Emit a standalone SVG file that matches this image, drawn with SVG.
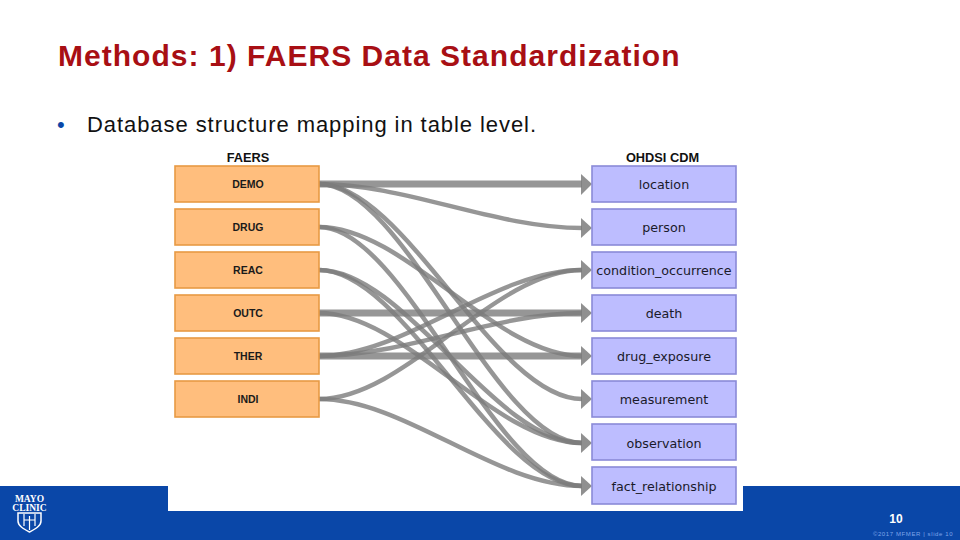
<svg xmlns="http://www.w3.org/2000/svg" width="960" height="540" viewBox="0 0 960 540">
<defs>
<style>
.t{font-family:"Liberation Sans",Arial,sans-serif}
.l{fill:#ffbe7d;stroke:#e89a44;stroke-width:1.6}
.r{fill:#bdbdff;stroke:#8a8ad8;stroke-width:1.6}
.lt{font-family:"Liberation Sans",Arial,sans-serif;font-size:10.500px;font-weight:bold;fill:#1a1a1a;text-anchor:middle}
.rt{font-family:"DejaVu Sans",sans-serif;font-size:12.700px;fill:#1a1a2a;text-anchor:middle}
.h{font-family:"Liberation Sans",Arial,sans-serif;font-size:12.800px;font-weight:bold;fill:#111;text-anchor:middle}
.c{fill:none;stroke:#7c7c7c;stroke-opacity:.8;stroke-width:4.500}
.s{stroke-width:7}
.a{fill:#7c7c7c;fill-opacity:.85}
</style>
</defs>
<rect width="960" height="540" fill="#fff"/>
<text class="t" x="58" y="66" font-size="30" font-weight="bold" letter-spacing="1.030" fill="#a80f14">Methods: 1) FAERS Data Standardization</text>
<text class="t" x="57" y="132" font-size="22" fill="#0a47a8">•</text>
<text class="t" x="87" y="132" font-size="22" letter-spacing=".93" fill="#111">Database structure mapping in table level.</text>
<rect id="band" x="0" y="486" width="960" height="54" fill="#0a47a8"/>
<rect id="panel" x="168" y="150" width="575" height="361" fill="#fff"/>
<g id="connectors">
<path class="c s" d="M319 184H582"/>
<path class="c" d="M319 184C405 184 495 228 582 228"/>
<path class="c" d="M319 184C405 184 495 399 582 399"/>
<path class="c" d="M319 184C405 184 495 443 582 443"/>
<path class="c" d="M319 227C405 227 495 356 582 356"/>
<path class="c" d="M319 227C405 227 495 486 582 486"/>
<path class="c" d="M319 270C405 270 495 443 582 443"/>
<path class="c" d="M319 270C405 270 495 486 582 486"/>
<path class="c s" d="M319 313H582"/>
<path class="c" d="M319 313C405 313 495 443 582 443"/>
<path class="c" d="M319 356C405 356 495 270 582 270"/>
<path class="c" d="M319 356C405 356 495 313 582 313"/>
<path class="c s" d="M319 356H582"/>
<path class="c" d="M319 399C405 399 495 270 582 270"/>
<path class="c" d="M319 399C405 399 495 486 582 486"/>
<polygon class="a" points="581,174 592,184 581,195"/>
<polygon class="a" points="581,218 592,228 581,238"/>
<polygon class="a" points="581,260 592,270 581,280"/>
<polygon class="a" points="581,303 592,313 581,323"/>
<polygon class="a" points="581,346 592,356 581,366"/>
<polygon class="a" points="581,389 592,399 581,409"/>
<polygon class="a" points="581,433 592,443 581,453"/>
<polygon class="a" points="581,476 592,486 581,496"/>
</g>
<text class="h" x="248" y="161.500">FAERS</text>
<text class="h" x="662.500" y="161.500">OHDSI CDM</text>
<g id="DEMO"><rect class="l" x="175" y="166" width="144" height="36"/><text class="lt" x="248" y="187.500">DEMO</text></g>
<g id="DRUG"><rect class="l" x="175" y="209" width="144" height="36"/><text class="lt" x="248" y="230.500">DRUG</text></g>
<g id="REAC"><rect class="l" x="175" y="252" width="144" height="36"/><text class="lt" x="248" y="273.500">REAC</text></g>
<g id="OUTC"><rect class="l" x="175" y="295" width="144" height="36"/><text class="lt" x="248" y="316.500">OUTC</text></g>
<g id="THER"><rect class="l" x="175" y="338" width="144" height="36"/><text class="lt" x="248" y="359.500">THER</text></g>
<g id="INDI"><rect class="l" x="175" y="381" width="144" height="36"/><text class="lt" x="248" y="402.500">INDI</text></g>
<g id="location"><rect class="r" x="592" y="166" width="144" height="36"/><text class="rt" x="664" y="188.500">location</text></g>
<g id="person"><rect class="r" x="592" y="209" width="144" height="36"/><text class="rt" x="664" y="231.500">person</text></g>
<g id="condition_occurrence"><rect class="r" x="592" y="252" width="144" height="36"/><text class="rt" x="664" y="274.500">condition_occurrence</text></g>
<g id="death"><rect class="r" x="592" y="295" width="144" height="36"/><text class="rt" x="664" y="317.500">death</text></g>
<g id="drug_exposure"><rect class="r" x="592" y="338" width="144" height="36"/><text class="rt" x="664" y="360.500">drug_exposure</text></g>
<g id="measurement"><rect class="r" x="592" y="381" width="144" height="36"/><text class="rt" x="664" y="403.500">measurement</text></g>
<g id="observation"><rect class="r" x="592" y="424" width="144" height="36"/><text class="rt" x="664" y="447.500">observation</text></g>
<g id="fact_relationship"><rect class="r" x="592" y="467" width="144" height="37"/><text class="rt" x="664" y="490.500">fact_relationship</text></g>
<g id="logo">
<text x="29.500" y="502" font-family="Liberation Serif,serif" font-size="9.500" font-weight="bold" fill="#fff" text-anchor="middle">MAYO</text>
<text x="29.500" y="510.500" font-family="Liberation Serif,serif" font-size="9.500" font-weight="bold" fill="#fff" text-anchor="middle">CLINIC</text>
<path d="M18 513H41V521C41 526 35 529 29.500 532C24 529 18 526 18 521Z" fill="none" stroke="#fff" stroke-width="1.500"/>
<path d="M24 514V526M29.500 516V530M35 514V526M24 520H35" fill="none" stroke="#fff" stroke-width="1.200"/>
</g>
<text class="t" x="896" y="523" font-size="12" font-weight="bold" fill="#fff" text-anchor="middle">10</text>
<text class="t" x="913" y="536" font-size="6" fill="#7fa5e8" text-anchor="middle" letter-spacing=".6">©2017 MFMER | slide 10</text>
</svg>
